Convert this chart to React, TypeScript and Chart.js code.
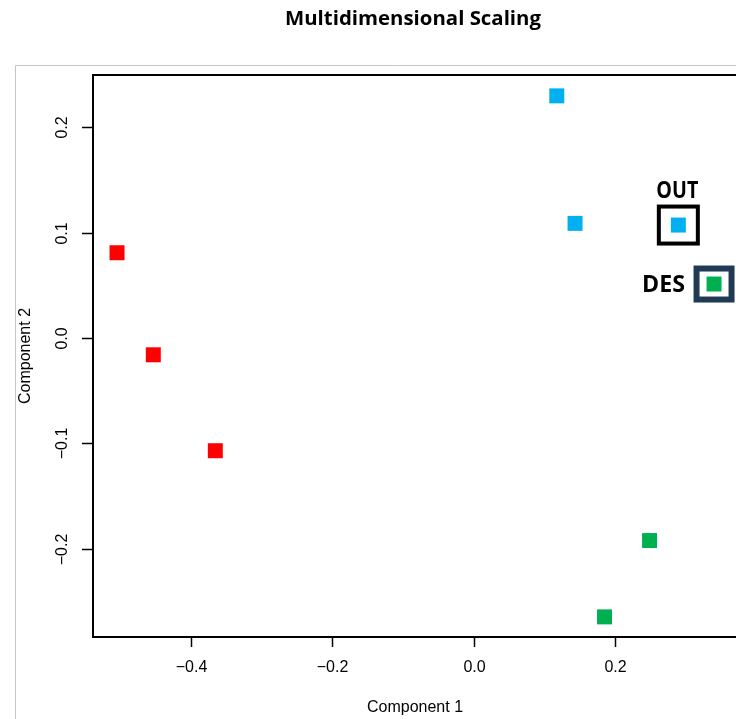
import React, { useEffect, useRef } from "react";
import { Chart, registerables } from "chart.js";

Chart.register(...registerables);

// ---- data ----
const chartTitle = "Multidimensional Scaling";
const xAxisTitle = "Component 1";
const yAxisTitle = "Component 2";

const redX = [-0.5045, -0.4532, -0.3655];
const redY = [0.081, -0.0159, -0.107];
const blueX = [0.1175, 0.1433, 0.2894];
const blueY = [0.23, 0.1089, 0.1073];
const greenX = [0.3399, 0.2487, 0.185];
const greenY = [0.0513, -0.1923, -0.2648];

const xTickValues = [-0.4, -0.2, 0, 0.2];
const xTickLabels = ["\u22120.4", "\u22120.2", "0.0", "0.2"];
const yTickValues = [-0.2, -0.1, 0, 0.1, 0.2];
const yTickLabels = ["\u22120.2", "\u22120.1", "0.0", "0.1", "0.2"];

const xRange = [-0.5385, 0.4049];
const yRange = [-0.2839, 0.2498];

// highlighted samples: label and the point they mark
const outLabel = "OUT";
const outPoint = { x: 0.2894, y: 0.1073 };
const desLabel = "DES";
const desPoint = { x: 0.3399, y: 0.0513 };

const toPoints = (xs: number[], ys: number[]) => xs.map((x, i) => ({ x, y: ys[i] }));

const BOLD_FAMILY = "'Open Sans', Lato, sans-serif";

// draws text at a given font size, squeezed horizontally to a target width
function drawFitted(
  ctx: CanvasRenderingContext2D,
  text: string,
  size: number,
  width: number,
  x: number,
  y: number,
  align: "left" | "center"
) {
  ctx.save();
  ctx.font = `bold ${size}px ${BOLD_FAMILY}`;
  const w = ctx.measureText(text).width;
  const sx = width / w;
  ctx.translate(x, y);
  ctx.scale(sx, 1);
  ctx.textAlign = align;
  ctx.textBaseline = "alphabetic";
  ctx.fillText(text, 0, 0);
  ctx.restore();
}

const decorPlugin = {
  id: "decor",
  afterDraw(chart: any) {
    const ctx: CanvasRenderingContext2D = chart.ctx;
    const area = chart.chartArea;
    const xs = chart.scales.x;
    const ys = chart.scales.y;
    ctx.save();

    // outer light frame
    ctx.strokeStyle = "#c4c4c4";
    ctx.lineWidth = 1;
    ctx.beginPath();
    ctx.moveTo(15.5, 719);
    ctx.lineTo(15.5, 65.5);
    ctx.lineTo(chart.width, 65.5);
    ctx.stroke();

    // title
    ctx.fillStyle = "#000";
    drawFitted(ctx, chartTitle, 20, 256, 413, 25, "center");

    // plot border
    ctx.strokeStyle = "#000";
    ctx.lineWidth = 2;
    ctx.strokeRect(area.left, area.top, area.right - area.left, area.bottom - area.top);

    // x ticks
    ctx.lineWidth = 1.5;
    ctx.font = "16px 'Liberation Sans', Arial, sans-serif";
    ctx.textAlign = "center";
    ctx.textBaseline = "middle";
    xTickValues.forEach((v, i) => {
      const px = Math.round(xs.getPixelForValue(v)) + 0.5;
      ctx.beginPath();
      ctx.moveTo(px, area.bottom);
      ctx.lineTo(px, area.bottom + 10);
      ctx.stroke();
      ctx.fillText(xTickLabels[i], px, 668);
    });

    // y ticks (rotated labels)
    yTickValues.forEach((v, i) => {
      const py = Math.round(ys.getPixelForValue(v)) + 0.5;
      ctx.beginPath();
      ctx.moveTo(area.left - 11, py);
      ctx.lineTo(area.left, py);
      ctx.stroke();
      ctx.save();
      ctx.translate(63, py);
      ctx.rotate(-Math.PI / 2);
      ctx.fillText(yTickLabels[i], 0, 0);
      ctx.restore();
    });

    // axis titles
    ctx.fillText(xAxisTitle, 415, 708);
    ctx.save();
    ctx.translate(26, (area.top + area.bottom) / 2);
    ctx.rotate(-Math.PI / 2);
    ctx.fillText(yAxisTitle, 0, 0);
    ctx.restore();

    // OUT highlight
    const ox = xs.getPixelForValue(outPoint.x);
    const oy = ys.getPixelForValue(outPoint.y);
    ctx.strokeStyle = "#000";
    ctx.lineWidth = 4;
    ctx.strokeRect(ox - 19.5, oy - 18.5, 39, 37);
    ctx.fillStyle = "#000";
    drawFitted(ctx, outLabel, 22.5, 42, ox - 1, oy - 27, "center");

    // DES highlight
    const dx = xs.getPixelForValue(desPoint.x);
    const dy = ys.getPixelForValue(desPoint.y);
    ctx.strokeStyle = "#203a56";
    ctx.lineWidth = 6;
    ctx.strokeRect(dx - 17.5, dy - 15.5, 35, 31);
    drawFitted(ctx, desLabel, 22.5, 43, dx - 72, dy + 8, "left");

    ctx.restore();
  },
};

export default function App() {
  const ref = useRef<HTMLCanvasElement | null>(null);
  useEffect(() => {
    if (!ref.current) return;
    const pointOpts = {
      pointStyle: "rect" as const,
      pointRadius: 10.6,
      pointHoverRadius: 10.6,
      pointBorderWidth: 0,
      showLine: false,
    };
    const chart = new Chart(ref.current, {
      type: "scatter",
      data: {
        datasets: [
          { label: "red", data: toPoints(redX, redY), backgroundColor: "#ff0000", borderColor: "#ff0000", ...pointOpts },
          { label: "blue", data: toPoints(blueX, blueY), backgroundColor: "#00b0f0", borderColor: "#00b0f0", ...pointOpts },
          { label: "green", data: toPoints(greenX, greenY), backgroundColor: "#00b050", borderColor: "#00b050", ...pointOpts },
        ],
      },
      options: {
        responsive: false,
        animation: false,
        devicePixelRatio: 1,
        layout: { padding: { left: 93, top: 75, right: 20, bottom: 82 } },
        plugins: { legend: { display: false }, tooltip: { enabled: false }, title: { display: false } },
        scales: {
          x: { type: "linear", min: xRange[0], max: xRange[1], display: false },
          y: { type: "linear", min: yRange[0], max: yRange[1], display: false },
        },
      },
      plugins: [decorPlugin],
    });
    return () => chart.destroy();
  }, []);
  return (
    <div style={{ position: "fixed", left: 0, top: 0, width: 736, height: 719, overflow: "hidden", background: "#fff" }}>
      <canvas ref={ref} width={780} height={719} style={{ display: "block" }} />
    </div>
  );
}
